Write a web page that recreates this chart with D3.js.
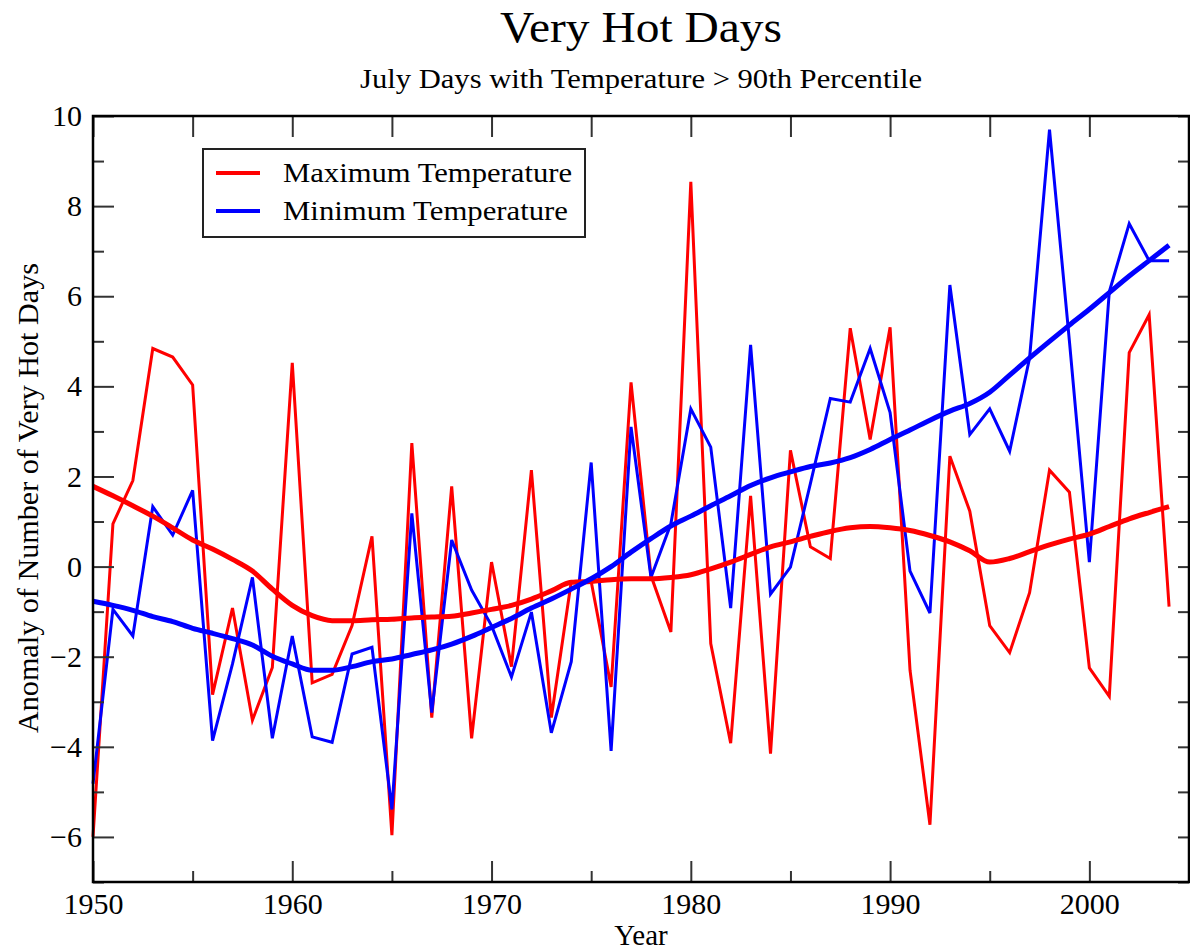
<!DOCTYPE html>
<html>
<head>
<meta charset="utf-8">
<script src="https://cdn.jsdelivr.net/npm/d3@7"></script>
<style>
  html, body { margin: 0; padding: 0; background: #fff; }
  svg { display: block; }
  text { font-family: "Liberation Serif", "Times New Roman", serif; fill: #000; }
</style>
</head>
<body>
<svg id="chart" width="1190" height="952"></svg>
<script>
// ---- data ----
const years = d3.range(1950, 2005);
const maxTemp = [
  -6.0, 0.95, 1.91, 4.84, 4.65, 4.03, -2.84, -0.92, -3.41, -2.24,
  4.52, -2.58, -2.39, -1.31, 0.67, -5.96, 2.74, -3.35, 1.78, -3.81,
  0.10, -2.22, 2.14, -3.35, -0.33, -0.33, -2.67, 4.09, -0.2, -1.45,
  8.54, -1.71, -3.92, 1.57, -4.15, 2.58, 0.44, 0.18, 5.29, 2.82,
  5.31, -2.3, -5.73, 2.45, 1.23, -1.31, -1.91, -0.58, 2.14, 1.65,
  -2.25, -2.88, 4.75, 5.59, -0.89
];
const minTemp = [
  -4.82, -0.95, -1.54, 1.33, 0.70, 1.69, -3.86, -2.16, -0.24, -3.81,
  -1.54, -3.78, -3.9, -1.94, -1.79, -5.39, 1.18, -3.24, 0.59, -0.52,
  -1.31, -2.45, -1.01, -3.69, -2.11, 2.31, -4.09, 3.10, -0.24, 0.95,
  3.50, 2.65, -0.92, 4.92, -0.61, -0.01, 1.84, 3.73, 3.65, 4.84,
  3.42, -0.1, -1.03, 6.25, 2.93, 3.50, 2.56, 4.63, 9.7, 5.0,
  0.10, 6.1, 7.61, 6.79, 6.79
];
const maxSmooth = [
  1.78, 1.57, 1.35, 1.12, 0.86, 0.59, 0.39, 0.16, -0.1, -0.5,
  -0.86, -1.09, -1.2, -1.2, -1.18, -1.17, -1.14, -1.12, -1.1, -1.03,
  -0.95, -0.86, -0.72, -0.54, -0.35, -0.33, -0.29, -0.27, -0.27, -0.24,
  -0.18, -0.05, 0.1, 0.27, 0.44, 0.55, 0.67, 0.78, 0.86, 0.89,
  0.86, 0.8, 0.69, 0.55, 0.35, 0.1, 0.18, 0.33, 0.48, 0.61,
  0.72, 0.89, 1.06, 1.2, 1.33
];
const minSmooth = [
  -0.77, -0.86, -0.97, -1.11, -1.22, -1.37, -1.48, -1.6, -1.74, -1.99,
  -2.16, -2.3, -2.3, -2.22, -2.11, -2.05, -1.95, -1.85, -1.72, -1.55,
  -1.35, -1.15, -0.92, -0.72, -0.5, -0.27, 0.0, 0.32, 0.62, 0.9,
  1.12, 1.35, 1.57, 1.8, 1.97, 2.1, 2.22, 2.3, 2.42, 2.6,
  2.82, 3.03, 3.25, 3.45, 3.62, 3.87, 4.25, 4.63, 5.0, 5.36,
  5.71, 6.08, 6.45, 6.79, 7.13
];
const xMajorTicks = [1950, 1960, 1970, 1980, 1990, 2000];
const yMajorTicks = [-6, -4, -2, 0, 2, 4, 6, 8, 10];
const legendLabels = ["Maximum Temperature", "Minimum Temperature"];
const colors = ["#ff0000", "#0000ff"];

// ---- layout ----
const L = 93, R = 1189, T = 116, B = 882;
const svg = d3.select("#chart");
const x = d3.scaleLinear().domain([1950, 2005]).range([L, R]);
const y = d3.scaleLinear().domain([-7, 10]).range([B, T]);

// titles
svg.append("text").attr("x", 641).attr("y", 42).attr("text-anchor", "middle")
  .attr("font-size", 44).attr("textLength", 282).attr("lengthAdjust", "spacingAndGlyphs")
  .text("Very Hot Days");
svg.append("text").attr("x", 641).attr("y", 88).attr("text-anchor", "middle")
  .attr("font-size", 28).attr("textLength", 562).attr("lengthAdjust", "spacingAndGlyphs")
  .text("July Days with Temperature > 90th Percentile");

// lines
const line = d3.line().x((d, i) => x(years[i])).y(d => y(d));
const g = svg.append("g");
g.append("path").datum(maxTemp).attr("d", line).attr("fill", "none")
  .attr("stroke", colors[0]).attr("stroke-width", 3).attr("stroke-linejoin", "miter");
g.append("path").datum(minTemp).attr("d", line).attr("fill", "none")
  .attr("stroke", colors[1]).attr("stroke-width", 3).attr("stroke-linejoin", "miter");
const sline = d3.line().curve(d3.curveMonotoneX).x((d, i) => x(years[i])).y(d => y(d));
g.append("path").datum(maxSmooth).attr("d", sline).attr("fill", "none")
  .attr("stroke", colors[0]).attr("stroke-width", 5);
g.append("path").datum(minSmooth).attr("d", sline).attr("fill", "none")
  .attr("stroke", colors[1]).attr("stroke-width", 5);

// axes
const tickColor = "#333";
function styleAxis(sel) {
  sel.select(".domain").remove();
  sel.selectAll(".tick line").attr("stroke", tickColor).attr("stroke-width", 2);
  sel.selectAll("text").attr("font-size", 30).attr("font-family", "Liberation Serif, Times New Roman, serif");
}
// bottom
svg.append("g").attr("transform", `translate(0,${B})`)
  .call(d3.axisBottom(x).tickValues(d3.range(1955, 2005, 10)).tickSize(-11).tickFormat(""))
  .call(styleAxis);
svg.append("g").attr("transform", `translate(0,${B})`)
  .call(d3.axisBottom(x).tickValues(xMajorTicks).tickSize(-21).tickPadding(11).tickFormat(d3.format("d")))
  .call(styleAxis);
// top
svg.append("g").attr("transform", `translate(0,${T})`)
  .call(d3.axisTop(x).tickValues(d3.range(1950, 2005, 5)).tickSize(-21).tickFormat(""))
  .call(styleAxis);
// left
svg.append("g").attr("transform", `translate(${L},0)`)
  .call(d3.axisLeft(y).tickValues(d3.range(-7, 10, 2)).tickSize(-11).tickFormat(""))
  .call(styleAxis);
svg.append("g").attr("transform", `translate(${L},0)`)
  .call(d3.axisLeft(y).tickValues(yMajorTicks).tickSize(-21).tickPadding(11).tickFormat(d3.format("d")))
  .call(styleAxis);
// right
svg.append("g").attr("transform", `translate(${R},0)`)
  .call(d3.axisRight(y).tickValues(d3.range(-7, 11, 1)).tickSize(-11).tickFormat(""))
  .call(styleAxis);

// frame
svg.append("rect").attr("x", L).attr("y", T).attr("width", R - L).attr("height", B - T)
  .attr("fill", "none").attr("stroke", "#000").attr("stroke-width", 2.5);

// axis labels
svg.append("text").attr("x", 641).attr("y", 945).attr("text-anchor", "middle")
  .attr("font-size", 29).text("Year");
svg.append("text").attr("transform", "translate(38,498) rotate(-90)").attr("text-anchor", "middle")
  .attr("font-size", 30).attr("textLength", 470).attr("lengthAdjust", "spacingAndGlyphs")
  .text("Anomaly of Number of Very Hot Days");

// legend
const lg = svg.append("g");
lg.append("rect").attr("x", 203).attr("y", 149).attr("width", 382).attr("height", 88)
  .attr("fill", "#fff").attr("stroke", "#222").attr("stroke-width", 2);
const lys = [173, 211];
const lw = [289, 285];
legendLabels.forEach((lab, i) => {
  lg.append("line").attr("x1", 216).attr("x2", 260).attr("y1", lys[i]).attr("y2", lys[i])
    .attr("stroke", colors[i]).attr("stroke-width", 4);
  lg.append("text").attr("x", 283).attr("y", lys[i] + 9).attr("font-size", 27)
    .attr("textLength", lw[i]).attr("lengthAdjust", "spacingAndGlyphs").text(lab);
});
</script>
</body>
</html>
